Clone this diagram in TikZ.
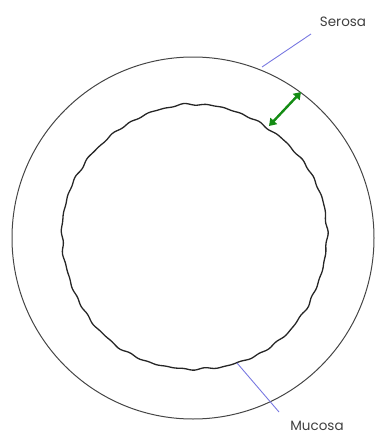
\documentclass[tikz,border=0pt]{standalone}
\usepackage{fontspec}
\setmainfont{Poppins}
\usetikzlibrary{arrows.meta}
\definecolor{leader}{RGB}{120,120,225}
\definecolor{arrowgreen}{RGB}{20,140,20}
\definecolor{ringgray}{RGB}{70,70,70}
\tikzset{
  ring/.style={draw=ringgray, line width=1pt},
  mucosaline/.style={draw=black!85, line width=1.3pt, line join=round},
  leaderline/.style={draw=leader, line width=0.9pt},
  lbl/.style={font=\fontsize{13.5}{15}\selectfont, text=black!75, inner sep=1pt},
  greenarrow/.style={draw=arrowgreen, line width=2.4pt, {Triangle[length=7pt,width=9pt]}-{Triangle[length=7pt,width=9pt]}}
}
\begin{document}
\begin{tikzpicture}[x=1pt,y=-1pt]
  \useasboundingbox (0,0) rectangle (377,434);
  % outer ring (serosa)
  \node[ring, circle, minimum size=362pt, inner sep=0pt] (outer) at (193,238) {};
  % inner wavy ring (mucosa)
  \draw[mucosaline] plot[smooth cycle, samples=300, domain=0:358.8, variable=\t]
    ({194.5+(132.5+0.45*sin(43*\t)+0.4*sin(31*\t+20)+0.35*sin(23*\t+70)+0.8*sin(5*\t))*cos(\t)},
     {237.5-(132.5+0.45*sin(43*\t)+0.4*sin(31*\t+20)+0.35*sin(23*\t+70)+0.8*sin(5*\t))*sin(\t)});
  \coordinate (inner) at (194.5,237.5);
  % labels
  \node[lbl] (serosa) at (343,22) {Serosa};
  \node[lbl] (mucosa) at (317,426) {Mucosa};
  \coordinate (sA) at (262,67);
  \coordinate (sB) at (311,34);
  \coordinate (mA) at (237,363);
  \coordinate (mB) at (279,412);
  \draw[leaderline] (sA) -- (sB);
  \draw[leaderline] (mA) -- (mB);
  % thickness arrow
  \coordinate (gA) at (269,126);
  \coordinate (gB) at (301,92);
  \draw[greenarrow] (gA) -- (gB);
\end{tikzpicture}
\end{document}
